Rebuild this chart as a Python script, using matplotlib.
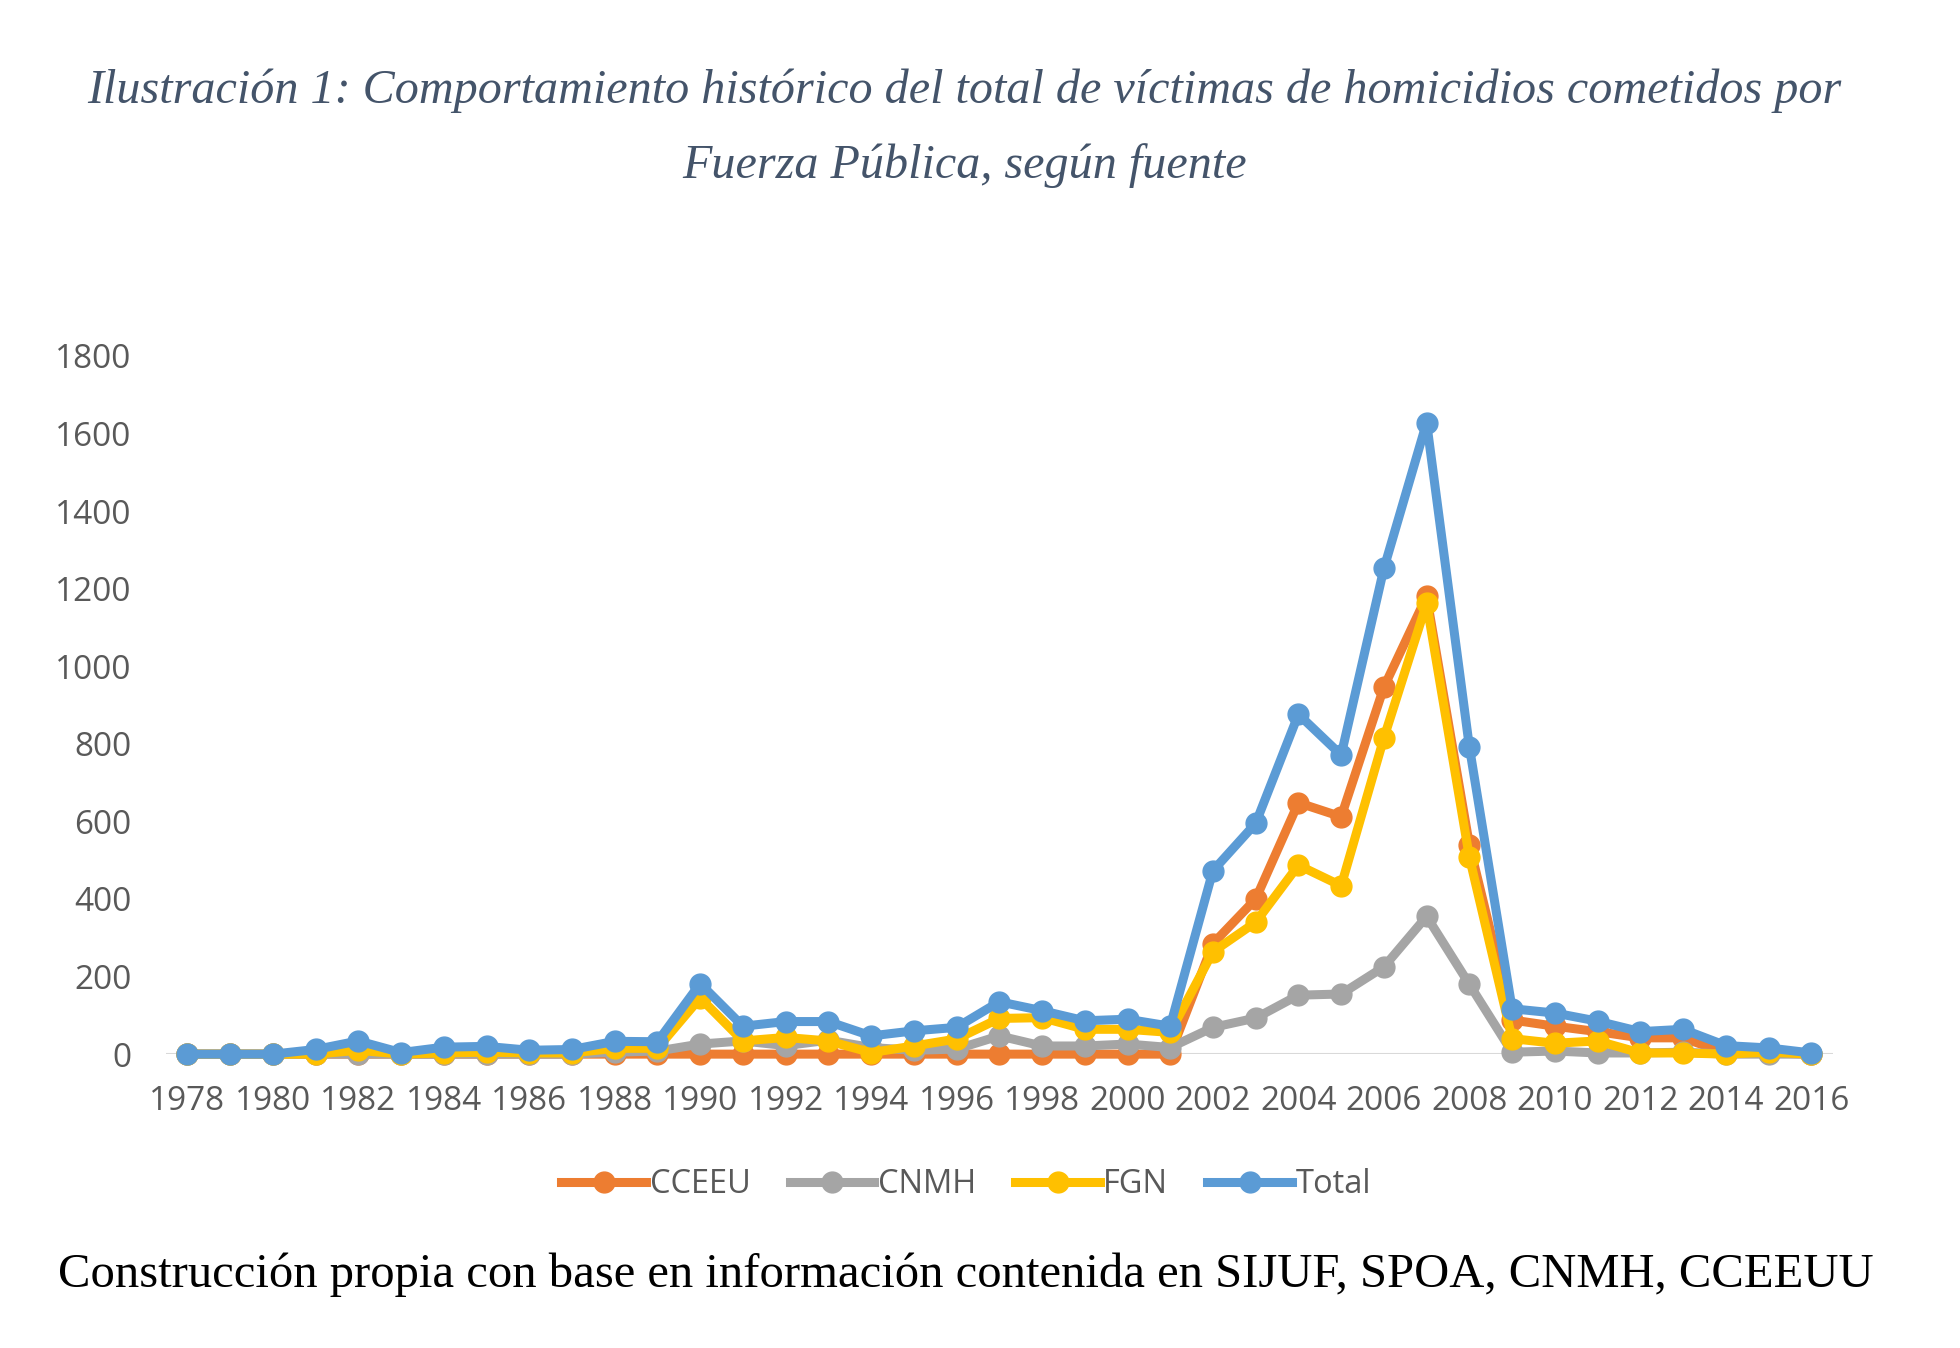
import matplotlib
matplotlib.use("Agg")
import matplotlib.pyplot as plt

# años y series
years = list(range(1978, 2017))

cceeu = [0, 0, 0, 0, 0, 0, 0, 0, 0, 0, 0, 0, 0, 0, 0, 0, 0, 0, 0, 0, 0, 0, 0, 0,
         285, 400, 648, 612, 946, 1180, 540, 88, 72, 58, 42, 42, 3, 3, 0]
cnmh = [0, 0, 0, 0, 0, 0, 0, 0, 0, 0, 5, 8, 26, 34, 22, 36, 17, 10, 13, 47, 21, 21, 26, 17,
        69, 93, 152, 155, 225, 355, 180, 5, 8, 3, 3, 5, 0, 0, 0]
fgn = [0, 0, 0, 0, 10, 0, 3, 5, 3, 3, 15, 15, 145, 34, 43, 34, 4, 21, 39, 92, 94, 64, 64, 56,
       264, 340, 487, 434, 815, 1162, 508, 40, 28, 34, 3, 3, 0, 5, 0]
total = [0, 0, 0, 12, 34, 4, 18, 20, 10, 12, 33, 32, 182, 72, 84, 84, 47, 60, 69, 135, 112, 86, 90, 72,
         473, 595, 876, 771, 1252, 1628, 792, 117, 106, 85, 58, 64, 22, 16, 3]

series = [("CCEEU", cceeu, "#ED7D31"),
          ("CNMH", cnmh, "#A5A5A5"),
          ("FGN", fgn, "#FFC000"),
          ("Total", total, "#5B9BD5")]

yticks = [0, 200, 400, 600, 800, 1000, 1200, 1400, 1600, 1800]
xticks = list(range(1978, 2017, 2))

title_1 = "Ilustración 1: Comportamiento histórico del total de víctimas de homicidios cometidos por"
title_2 = "Fuerza Pública, según fuente"
caption = "Construcción propia con base en información contenida en SIJUF, SPOA, CNMH, CCEEUU"

fig = plt.figure(figsize=(19.6, 13.48), dpi=100)
ax = fig.add_axes([0.0847, 0.218, 0.8503, 0.518])

for name, vals, col in series:
    ax.plot(years, vals, color=col, lw=6.5, marker="o", ms=15, label=name,
            clip_on=False, solid_joinstyle="round")

ax.set_xlim(1977.5, 2016.5)
ax.set_ylim(0, 1800)
ax.set_xticks(xticks)
ax.set_yticks(yticks)
ax.tick_params(length=0, labelsize=24, labelcolor="#595959")
for lab in ax.get_xticklabels() + ax.get_yticklabels():
    lab.set_family("Open Sans")
ax.tick_params(axis="x", pad=22)
ax.tick_params(axis="y", pad=25)
for s in ax.spines.values():
    s.set_visible(False)
ax.axhline(0, color="#D9D9D9", lw=1.5, zorder=0)

leg = fig.legend(loc="center", bbox_to_anchor=(0.493, 0.121), ncol=4, frameon=False,
                 handlelength=2.6, columnspacing=1.2, handletextpad=0.1,
                 prop={"family": "Open Sans", "size": 23.5})
for t in leg.get_texts():
    t.set_color("#595959")

fig.text(0.492, 0.933, title_1, ha="center", va="center", family="Liberation Serif",
         style="italic", fontsize=34.7, color="#44546A")
fig.text(0.492, 0.877, title_2, ha="center", va="center", family="Liberation Serif",
         style="italic", fontsize=34.7, color="#44546A")
fig.text(0.493, 0.054, caption, ha="center", va="center", family="Liberation Serif",
         fontsize=35, color="black")

fig.savefig("out.png", dpi=100, facecolor="white")
